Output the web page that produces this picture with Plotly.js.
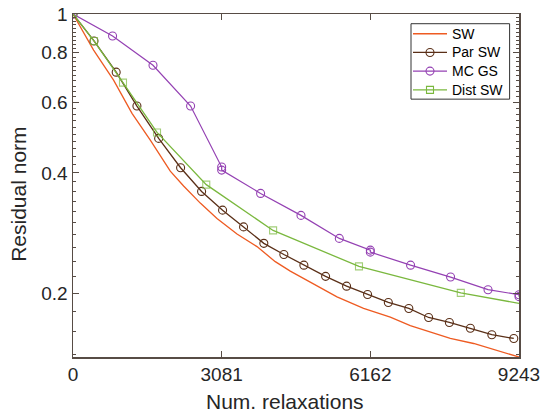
<!DOCTYPE html>
<html>
<head>
<meta charset="utf-8">
<script src="https://cdn.plot.ly/plotly-3.0.1.min.js"></script>
<style>
html,body{margin:0;padding:0;background:#fff;}
#chart{width:540px;height:412px;}
</style>
</head>
<body>
<div id="chart"></div>
<script>
// Series names
const seriesNames = ["SW", "Par SW", "MC GS", "Dist SW"];

// SW (no markers)
const swX = [0, 427, 841, 1223, 1602, 2016, 2292, 2638, 2984, 3399, 3813, 4192, 4503, 4918, 5471, 6022, 6576, 6990, 7405, 7819, 8302, 8787, 9243];
const swY = [1.0, 0.812, 0.683, 0.564, 0.483, 0.404, 0.3707, 0.336, 0.3076, 0.281, 0.2614, 0.2397, 0.2269, 0.213, 0.1956, 0.183, 0.174, 0.1657, 0.1596, 0.1539, 0.1495, 0.1438, 0.1383];

// Par SW
const parX = [0, 435, 895, 1325, 1775, 2230, 2665, 3100, 3535, 3955, 4370, 4785, 5235, 5670, 6105, 6535, 6960, 7370, 7800, 8235, 8680, 9135];
const parY = [1.0, 0.856, 0.715, 0.588, 0.488, 0.412, 0.3594, 0.3226, 0.2929, 0.2664, 0.2498, 0.2349, 0.2202, 0.2081, 0.1983, 0.1894, 0.183, 0.1737, 0.1688, 0.1633, 0.1573, 0.1539];

// MC GS
const mcX = [0, 820, 1658, 2437, 3081, 3081, 3888, 4725, 5519, 6162, 6162, 6996, 7825, 8601, 9243, 9243];
const mcY = [1.0, 0.881, 0.744, 0.588, 0.4136, 0.4064, 0.3553, 0.313, 0.2741, 0.2562, 0.2532, 0.2349, 0.2193, 0.2039, 0.1981, 0.1959];

// Dist SW
const distX = [0, 435, 1036, 1741, 2762, 4147, 5927, 8037, 9243];
const distY = [1.0, 0.856, 0.673, 0.505, 0.3737, 0.287, 0.2332, 0.2002, 0.1884];

// Axis ticks / titles
const xTitle = "Num. relaxations";
const yTitle = "Residual norm";
const xTickVals = [0, 3081, 6162, 9243];
const xTickText = ["0", "3081", "6162", "9243"];
const yTickVals = [0.2, 0.4, 0.6, 0.8, 1];
const yTickText = ["0.2", "0.4", "0.6", "0.8", "1"];
const yMinorVals = [0.14,0.16,0.18,0.22,0.24,0.26,0.28,0.30,0.32,0.34,0.36,0.38,0.42,0.44,0.46,0.48,0.50,0.52,0.54,0.56,0.58,0.62,0.64,0.66,0.68,0.70,0.72,0.74,0.76,0.78,0.82,0.84,0.86,0.88,0.90,0.92,0.94,0.96,0.98];

const colors = ['#ee5b22', '#5a2f17', '#9441b3', '#7ab83e'];
const axisColor = '#574c45';
const textColor = '#262626';
const fontFam = '"Liberation Sans", Arial, Helvetica, sans-serif';

// plot-area geometry (pixels) for placing legend/titles in paper coords
const PL = 72.7, PR = 518.7, PT = 14.3, PB = 356.7;
const px2x = p => (p - PL) / (PR - PL);
const py2y = p => (PB - p) / (PB - PT);

const traces = [
  {x: swX, y: swY, name: seriesNames[0], mode: 'lines', type: 'scatter',
   line: {color: colors[0], width: 1.3}},
  {x: parX, y: parY, name: seriesNames[1], mode: 'lines+markers', type: 'scatter',
   line: {color: colors[1], width: 1.3},
   marker: {symbol: 'circle-open', size: 8, color: colors[1], line: {width: 1.1}}},
  {x: mcX, y: mcY, name: seriesNames[2], mode: 'lines+markers', type: 'scatter',
   line: {color: colors[2], width: 1.2},
   marker: {symbol: 'circle-open', size: 8, color: colors[2], line: {width: 1.1}}},
  {x: distX, y: distY, name: seriesNames[3], mode: 'lines+markers', type: 'scatter',
   line: {color: colors[3], width: 1.3},
   marker: {symbol: 'square-open', size: [7,7,7,7,7,7,7,7,0], color: colors[3], line: {width: 1.1}}}
];

// custom legend (box, line samples, marker samples, labels)
const legRows = [34, 52.7, 71.3, 90];
const legMarkers = [null, 'circle', 'circle', 'square'];
const shapes = [{
  type: 'rect', xref: 'paper', yref: 'paper',
  x0: px2x(410.7), x1: px2x(509.3), y0: py2y(99.3), y1: py2y(24),
  line: {color: '#333333', width: 1}, fillcolor: '#ffffff', layer: 'above'
}];
const annotations = [];
legRows.forEach((ry, i) => {
  shapes.push({type: 'line', xref: 'paper', yref: 'paper',
    x0: px2x(412.7), x1: px2x(446.7), y0: py2y(ry), y1: py2y(ry),
    line: {color: colors[i], width: 1.3}, layer: 'above'});
  if (legMarkers[i]) {
    const h = legMarkers[i] === 'circle' ? 4 : 3.5;
    shapes.push({type: legMarkers[i] === 'circle' ? 'circle' : 'rect',
      xref: 'paper', yref: 'paper', xsizemode: 'pixel', ysizemode: 'pixel',
      xanchor: px2x(429.7), yanchor: py2y(ry), x0: -h, x1: h, y0: -h, y1: h,
      line: {color: colors[i], width: 1.1}, fillcolor: 'rgba(0,0,0,0)', layer: 'above'});
  }
  annotations.push({xref: 'paper', yref: 'paper', x: px2x(449.5), y: py2y(ry),
    xanchor: 'left', yanchor: 'middle', showarrow: false, text: seriesNames[i],
    font: {family: fontFam, size: 14, color: '#000'}});
});
// axis titles
annotations.push({xref: 'paper', yref: 'paper', x: px2x(284.5), y: py2y(401.5),
  xanchor: 'center', yanchor: 'middle', showarrow: false, text: xTitle,
  font: {family: fontFam, size: 21, color: textColor}});
annotations.push({xref: 'paper', yref: 'paper', x: px2x(17.5), y: py2y(194),
  xanchor: 'center', yanchor: 'middle', showarrow: false, text: yTitle, textangle: -90,
  font: {family: fontFam, size: 21, color: textColor}});

const layout = {
  width: 540, height: 412,
  margin: {l: PL, r: 540 - PR, t: PT, b: 412 - PB},
  paper_bgcolor: '#fff', plot_bgcolor: '#fff',
  font: {family: fontFam, color: textColor, size: 19},
  showlegend: false,
  shapes: shapes,
  annotations: annotations,
  xaxis: {
    range: [0, 9243],
    tickmode: 'array', tickvals: xTickVals, ticktext: xTickText,
    ticks: 'inside', ticklen: 6, tickwidth: 1, tickcolor: axisColor,
    ticklabelshift: -4.5, ticklabeloverflow: 'allow',
    showline: true, linecolor: axisColor, linewidth: 1.5, mirror: 'ticks',
    showgrid: false, zeroline: false,
    tickfont: {size: 19, color: textColor}
  },
  yaxis: {
    type: 'log',
    range: [Math.log10(0.1383), 0],
    tickmode: 'array', tickvals: yTickVals, ticktext: yTickText,
    ticks: 'inside', ticklen: 6, tickwidth: 1, tickcolor: axisColor,
    ticklabeloverflow: 'allow',
    minor: {tickmode: 'array', tickvals: yMinorVals, ticks: 'inside', ticklen: 3, tickcolor: axisColor, tickwidth: 1, showgrid: false},
    showline: true, linecolor: axisColor, linewidth: 1.5, mirror: 'ticks',
    showgrid: false, zeroline: false,
    tickfont: {size: 19, color: textColor}
  }
};

Plotly.newPlot('chart', traces, layout, {displayModeBar: false, staticPlot: true});
</script>
</body>
</html>
